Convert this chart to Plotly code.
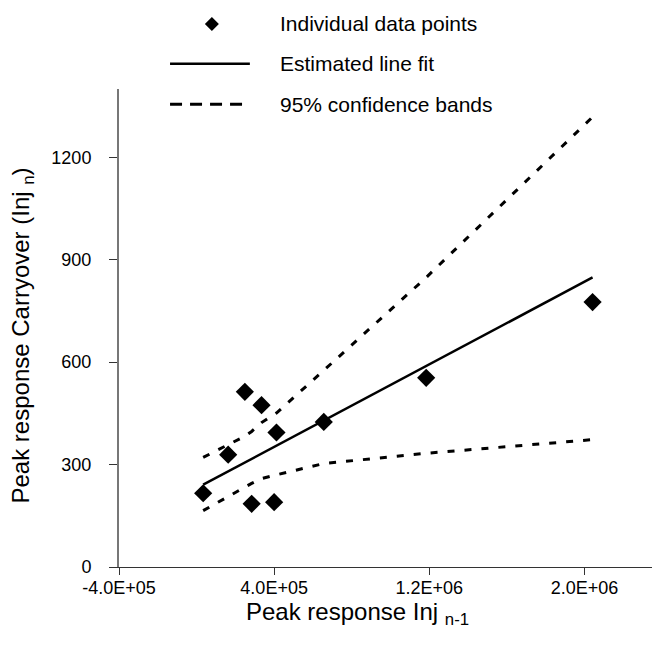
import plotly.graph_objects as go

# ---- data ----
point_x = [34e3, 163e3, 249e3, 335e3, 412e3, 284e3, 400e3, 656e3, 1184e3, 2042e3]
point_y = [216, 329, 513, 474, 394, 185, 190, 425, 554, 776]

fit_x = [34e3, 2042e3]
fit_y = [241, 848]

band_x = [34e3, 163e3, 249e3, 284e3, 335e3, 400e3, 412e3, 656e3, 1184e3, 2042e3]
band_upper = [321, 359, 383, 397, 423, 447, 451, 576, 848, 1318]
band_lower = [165, 207, 236, 245, 259, 269, 270, 303, 333, 373]

x_tick_vals = [-4e5, 4e5, 1.2e6, 2.0e6]
x_tick_text = ["-4.0E+05", "4.0E+05", "1.2E+06", "2.0E+06"]
y_tick_vals = [0, 300, 600, 900, 1200]

legend_labels = ["Individual data points", "Estimated line fit", "95% confidence bands"]
x_title = "Peak response Inj <sub>n-1</sub>"
y_title = "Peak response Carryover (Inj <sub>n</sub>)"

FONT = "Liberation Sans, Arial, sans-serif"
DASH = "7px,10px"

fig = go.Figure()
fig.add_trace(go.Scatter(x=band_x, y=band_upper, mode="lines",
                         line=dict(color="black", width=3, dash=DASH), showlegend=False))
fig.add_trace(go.Scatter(x=band_x, y=band_lower, mode="lines",
                         line=dict(color="black", width=3, dash=DASH), showlegend=False))
fig.add_trace(go.Scatter(x=fit_x, y=fit_y, mode="lines",
                         line=dict(color="black", width=2.5), showlegend=False))
fig.add_trace(go.Scatter(x=point_x, y=point_y, mode="markers",
                         marker=dict(symbol="diamond", size=14, color="black"), showlegend=False))

# ---- hand-drawn legend (samples + labels) ----
leg_rows_y = [1.136, 1.053, 0.968]
seg_x0, seg_x1, glyph_x, text_x = 0.094, 0.241, 0.171, 0.293
shapes = [
    dict(type="path", xref="paper", yref="paper", xsizemode="pixel", ysizemode="pixel",
         xanchor=glyph_x, yanchor=leg_rows_y[0],
         path="M 0 7 L 7 0 L 0 -7 L -7 0 Z", fillcolor="black", line=dict(width=0)),
    dict(type="line", xref="paper", yref="paper", x0=seg_x0, x1=seg_x1,
         y0=leg_rows_y[1], y1=leg_rows_y[1], line=dict(color="black", width=2.5)),
    dict(type="line", xref="paper", yref="paper", x0=seg_x0, x1=seg_x1,
         y0=leg_rows_y[2], y1=leg_rows_y[2], line=dict(color="black", width=3, dash="12px,8px")),
]
annotations = [
    dict(text=t, xref="paper", yref="paper", x=text_x, y=yy, xanchor="left", yanchor="middle",
         showarrow=False, font=dict(family=FONT, size=21, color="black"))
    for t, yy in zip(legend_labels, leg_rows_y)
]
# axis titles as annotations, positioned as in the reference
annotations.append(dict(text=x_title, xref="paper", yref="paper", x=0.44, y=-0.06,
                        xanchor="center", yanchor="top", showarrow=False,
                        font=dict(family=FONT, size=24, color="black")))
annotations.append(dict(text=y_title, xref="paper", yref="paper", x=-0.178, y=0.485,
                        xanchor="center", yanchor="middle", textangle=-90, showarrow=False,
                        font=dict(family=FONT, size=24, color="black")))

# the page body adds an 8px offset, so margins are reduced accordingly
fig.update_layout(
    width=660, height=647,
    margin=dict(l=111, r=6, t=81, b=88, autoexpand=False),
    paper_bgcolor="white", plot_bgcolor="white",
    font=dict(family=FONT, color="black"),
    shapes=shapes, annotations=annotations,
    showlegend=False,
)
fig.update_xaxes(
    range=[-4e5, 2.4e6], tickvals=x_tick_vals, ticktext=x_tick_text, automargin=False,
    showgrid=False, zeroline=False, showline=True, linecolor="#333", linewidth=1.2,
    ticks="outside", ticklen=7, tickcolor="#333", tickfont=dict(size=18),
    ticklabelstandoff=-3,
)
fig.update_yaxes(
    range=[0, 1400], tickvals=y_tick_vals, automargin=False,
    showgrid=False, zeroline=False, showline=True, linecolor="#777", linewidth=2,
    ticks="outside", ticklen=8, tickcolor="#333", tickfont=dict(size=18),
    ticklabelstandoff=14,
)

fig.write_html("out.html")
